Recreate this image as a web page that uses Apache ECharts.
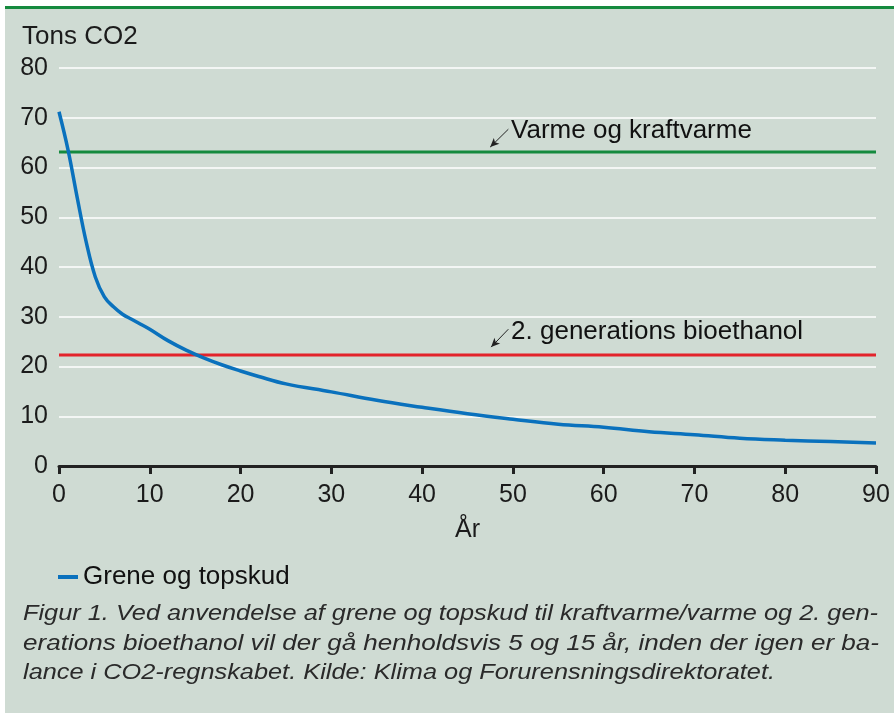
<!DOCTYPE html>
<html>
<head>
<meta charset="utf-8">
<script src="https://cdn.jsdelivr.net/npm/echarts@6/dist/echarts.min.js"></script>
<style>
html, body { margin: 0; padding: 0; background: #fff; }
#chart { width: 894px; height: 713px; }
</style>
</head>
<body>
<div id="chart"></div>
<script>
// År / tons CO2 for grene og topskud
const years = [0, 1, 2, 3, 4, 5, 6, 7, 8, 9, 10, 12, 14, 16, 18, 20, 22, 25, 30, 35, 40, 45, 50, 55, 60, 65, 70, 75, 80, 85, 90];
const co2 = [71.2, 63.5, 54, 45, 38, 34, 32, 30.5, 29.5, 28.5, 27.5, 25.2, 23.3, 21.7, 20.3, 19.1, 18, 16.5, 14.9, 13.2, 11.8, 10.5, 9.4, 8.4, 7.8, 6.9, 6.3, 5.6, 5.2, 4.9, 4.6];

// reference levels
const heatPower = 63.1;   // Varme og kraftvarme
const bioethanol = 22.3;  // 2. generations bioethanol

const captionLines = [
  'Figur 1. Ved anvendelse af grene og topskud til kraftvarme/varme og 2. gen-',
  'erations bioethanol vil der gå henholdsvis 5 og 15 år, inden der igen er ba-',
  'lance i CO2-regnskabet. Kilde: Klima og Forurensningsdirektoratet.'
];
const captionWidths = [855, 856, 752];

const FONT = '"Liberation Sans", Arial, Helvetica, sans-serif';
const TXT = '#1b1b1b';

function fitScale(text, size, target) {
  const ctx = document.createElement('canvas').getContext('2d');
  ctx.font = 'italic ' + size + 'px "Liberation Sans"';
  return target / ctx.measureText(text).width;
}

function refLine(name, value, color, arrowFrom, arrowTo, labelAt) {
  return {
    name: name,
    type: 'line',
    data: [[0, value], [90, value]],
    symbol: 'none',
    silent: true,
    lineStyle: { color: color, width: 3 },
    markLine: {
      silent: true,
      symbol: ['none', 'arrow'],
      symbolSize: [6, 9],
      label: { show: false },
      lineStyle: { color: '#222', width: 1, type: 'solid' },
      data: [[{ coord: arrowFrom }, { coord: arrowTo }]]
    },
    markPoint: {
      silent: true,
      symbol: 'circle',
      symbolSize: 0,
      label: {
        show: true, position: 'right', distance: 0,
        formatter: name, fontFamily: FONT, fontSize: 26, color: '#111'
      },
      data: [{ coord: labelAt }]
    }
  };
}

const chart = echarts.init(document.getElementById('chart'));

const captionGraphics = captionLines.map((line, i) => ({
  type: 'text',
  x: 23,
  y: 614 + i * 29.5,
  scaleX: fitScale(line, 22, captionWidths[i]),
  style: {
    text: line,
    font: 'italic 22px "Liberation Sans"',
    fill: '#2a2a2a',
    align: 'left',
    verticalAlign: 'middle'
  }
}));

chart.setOption({
  animation: false,
  backgroundColor: '#fff',
  graphic: [
    { type: 'rect', z: -10, shape: { x: 5, y: 6, width: 889, height: 707 }, style: { fill: '#cfdbd3' } },
    { type: 'rect', z: -9, shape: { x: 5, y: 6, width: 889, height: 3 }, style: { fill: '#158a3e' } },
    { type: 'text', x: 22, y: 37, style: { text: 'Tons CO2', font: '26px "Liberation Sans"', fill: TXT, verticalAlign: 'middle' } }
  ].concat(captionGraphics),
  grid: { left: 59, right: 18, top: 68, bottom: 247 },
  legend: {
    left: 58, top: 564, padding: 0,
    data: ['Grene og topskud'],
    icon: 'rect', itemWidth: 20, itemHeight: 4,
    textStyle: { fontFamily: FONT, fontSize: 26, color: '#111' }
  },
  xAxis: {
    type: 'value', min: 0, max: 90, interval: 10,
    name: 'År', nameLocation: 'middle', nameGap: 52,
    nameTextStyle: { fontFamily: FONT, fontSize: 25, color: TXT },
    axisLine: { show: true, lineStyle: { color: '#222', width: 3 } },
    axisTick: { show: true, length: 8, lineStyle: { color: '#222', width: 3 } },
    axisLabel: { fontFamily: FONT, fontSize: 25, color: TXT, margin: 17 },
    splitLine: { show: false }
  },
  yAxis: {
    type: 'value', min: 0, max: 80, interval: 10,
    axisLine: { show: false },
    axisTick: { show: false },
    axisLabel: { fontFamily: FONT, fontSize: 25, color: TXT, margin: 11 },
    splitLine: { lineStyle: { color: '#ffffff', width: 1.5 } }
  },
  series: [
    refLine('Varme og kraftvarme', heatPower, '#158a3e', [49.5, 67.7], [47.5, 64.1], [49.8, 67.3]),
    refLine('2. generations bioethanol', bioethanol, '#e3232b', [49.5, 27.5], [47.6, 23.9], [49.8, 26.9]),
    {
      name: 'Grene og topskud',
      type: 'line',
      data: years.map((y, i) => [y, co2[i]]),
      smooth: 0.4,
      symbol: 'none',
      lineStyle: { color: '#0a71bd', width: 3.5 },
      itemStyle: { color: '#0a71bd' },
      z: 5
    }
  ]
});
</script>
</body>
</html>
